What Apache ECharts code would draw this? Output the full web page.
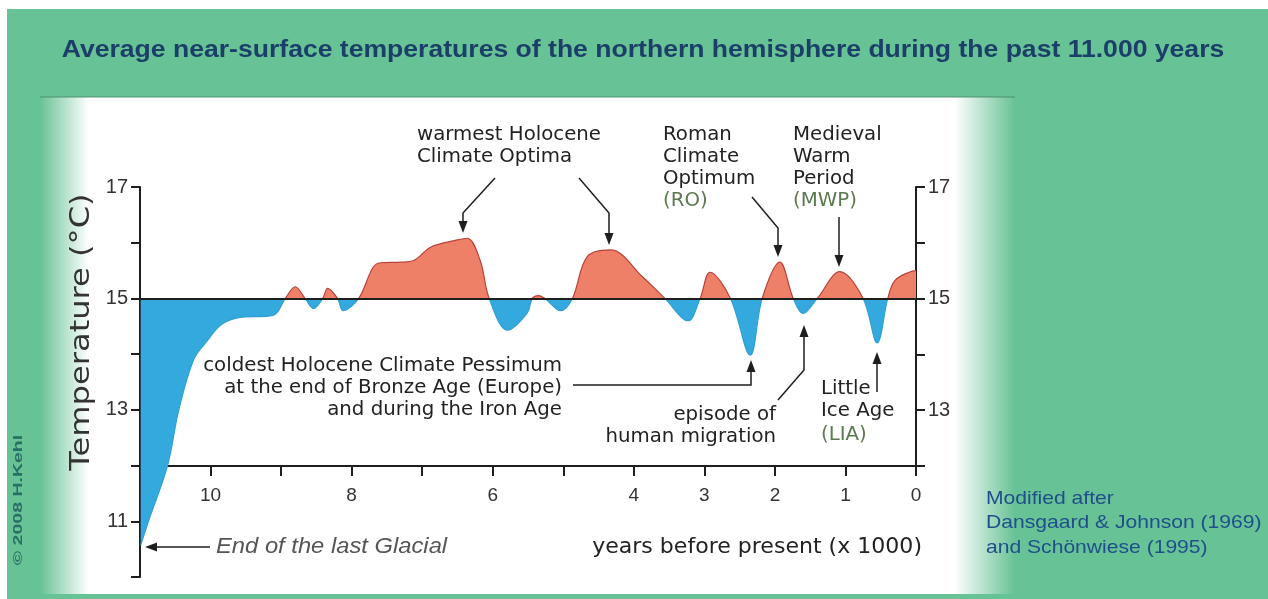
<!DOCTYPE html>
<html>
<head>
<meta charset="utf-8">
<script src="https://cdn.jsdelivr.net/npm/echarts@6/dist/echarts.min.js"></script>
<style>
  html, body { margin: 0; padding: 0; background: #fff; }
  #chart { width: 1268px; height: 599px; }
</style>
</head>
<body>
<div id="chart"></div>
<script>
// years before present (x 1000) and temperature (°C)
const years = [10.99, 10.88, 10.61, 10.45, 10.24, 10.04, 9.86, 9.62, 9.11,
  8.94, 8.80, 8.66, 8.54, 8.41, 8.34, 8.20, 8.12, 7.90,
  7.70, 7.59, 7.30, 7.12, 6.88, 6.50, 6.36, 6.18, 6.05,
  5.79, 5.51, 5.44, 5.35, 5.26, 5.04, 4.87, 4.66, 4.33,
  3.87, 3.56, 3.23, 3.06, 2.92, 2.63, 2.35, 2.18, 1.93,
  1.74, 1.60, 1.40, 1.08, 0.75, 0.55, 0.40, 0.30, 0.08, 0];
const temps = [10.57, 11.0, 12.0, 13.0, 13.9, 14.25, 14.52, 14.65, 14.7,
  15.0, 15.21, 15.0, 14.82, 15.0, 15.18, 15.0, 14.78, 15.0,
  15.55, 15.64, 15.65, 15.68, 15.92, 16.05, 16.08, 15.69, 15.0,
  14.43, 14.74, 15.0, 15.05, 15.0, 14.78, 15.0, 15.75, 15.87,
  15.38, 15.0, 14.6, 15.0, 15.47, 15.0, 13.98, 15.0, 15.65,
  15.0, 14.73, 15.0, 15.48, 15.0, 14.2, 15.0, 15.32, 15.48, 15.5];

const xTicks = [0, 1, 2, 3, 4, 5, 6, 7, 8, 9, 10];
const xLabels = [0, 1, 2, 3, 4, 6, 8, 10];
const yLabelsLeft = [11, 13, 15, 17];
const yLabelsRight = [13, 15, 17];
const baseTemp = 15;

const GREEN = '#67c295';
const INK = '#1e1e1e';
const TXT = '"DejaVu Sans", Verdana, sans-serif';
const ARIAL = '"Liberation Sans", Arial, sans-serif';

let points = years.map((y, i) => [y, temps[i]]);

function arrow(pts) {
  let n = pts.length;
  let [x1, y1] = pts[n - 2];
  let [x2, y2] = pts[n - 1];
  let a = Math.atan2(y2 - y1, x2 - x1);
  let L = 12, W = 4.5;
  let bx = x2 - L * Math.cos(a), by = y2 - L * Math.sin(a);
  let tri = [[x2, y2], [bx + W * Math.sin(a), by - W * Math.cos(a)], [bx - W * Math.sin(a), by + W * Math.cos(a)]];
  return [
    { type: 'polyline', z: 50, shape: { points: pts.slice(0, -1).concat([[bx, by]]) }, style: { stroke: INK, lineWidth: 1.5, fill: null } },
    { type: 'polygon', z: 50, shape: { points: tri }, style: { fill: INK } }
  ];
}

function txt(text, x, y, opt) {
  opt = opt || {};
  return {
    type: 'text', z: 50, x: x, y: y, rotation: opt.rotation || 0, scaleX: opt.scaleX || 1.04,
    style: Object.assign({ text: text, fill: '#222', font: '19px ' + TXT, align: 'left', verticalAlign: 'middle', lineHeight: 22 }, opt.style)
  };
}

let graphics = [
  { type: 'rect', z: -20, shape: { x: 7, y: 9, width: 1261, height: 590 }, style: { fill: GREEN } },
  {
    type: 'rect', z: -19, shape: { x: 40, y: 97, width: 975, height: 497 },
    style: {
      fill: new echarts.graphic.LinearGradient(0, 0, 1, 0, [
        { offset: 0, color: GREEN },
        { offset: 0.05, color: '#ffffff' },
        { offset: 0.938, color: '#ffffff' },
        { offset: 1, color: GREEN }
      ])
    }
  },
  { type: 'rect', z: -18, shape: { x: 40, y: 96, width: 975, height: 2 }, style: { fill: 'rgba(70,140,105,0.45)' } },
  txt('Average near-surface temperatures of the northern hemisphere during the past 11.000 years', 643, 50,
    { scaleX: 1.107, style: { font: 'bold 24px ' + ARIAL, fill: '#1b3f68', align: 'center' } }),
  txt('Temperature (°C)', 82, 332, { rotation: Math.PI / 2, scaleX: 1.19, style: { font: '27px ' + TXT, fill: '#333', align: 'center' } }),
  txt('© 2008 H.Kehl', 18, 500, { rotation: Math.PI / 2, scaleX: 1.5, style: { font: 'bold 13px ' + ARIAL, fill: '#2a6f66', align: 'center' } }),
  txt('warmest Holocene\nClimate Optima', 417, 146),
  txt('Roman\nClimate\nOptimum', 663, 157),
  txt('(RO)', 663, 201, { style: { fill: '#5b7a4f' } }),
  txt('Medieval\nWarm\nPeriod', 793, 157),
  txt('(MWP)', 793, 201, { style: { fill: '#5b7a4f' } }),
  txt('coldest Holocene Climate Pessimum\nat the end of Bronze Age (Europe)\nand during the Iron Age', 562, 388, { style: { align: 'right' } }),
  txt('episode of\nhuman migration', 776, 426, { style: { align: 'right' } }),
  txt('Little\nIce Age', 821, 400),
  txt('(LIA)', 821, 435, { style: { fill: '#5b7a4f' } }),
  txt('End of the last Glacial', 216, 547, { scaleX: 1.08, style: { font: 'italic 22px ' + ARIAL, fill: '#555' } }),
  txt('years before present (x 1000)', 922, 548, { scaleX: 1.05, style: { font: '21px ' + TXT, fill: '#222', align: 'right' } }),
  txt('Modified after\nDansgaard & Johnson (1969)\nand Schönwiese (1995)', 986, 523,
    { scaleX: 1.11, style: { font: '19px ' + ARIAL, fill: '#1f4e8c', lineHeight: 24.5 } })
];
[
  [[495, 178], [463, 213], [463, 233]],
  [[579, 178], [609, 213], [609, 245]],
  [[752, 197], [778, 228], [778, 257]],
  [[839, 217], [839, 267]],
  [[573, 385], [751, 385], [751, 360]],
  [[778, 400], [804, 370], [804, 325]],
  [[877, 392], [877, 352]],
  [[210, 547], [145, 547]]
].forEach(p => { graphics = graphics.concat(arrow(p)); });

let axisLine = { show: true, onZero: false, lineStyle: { color: INK, width: 2 } };
let axisTick = { show: true, length: 9, lineStyle: { color: INK, width: 2 } };

let options = {
  backgroundColor: '#ffffff',
  animation: false,
  grid: [
    { left: 140, right: 352, top: 187, bottom: 22 },
    { left: 140, right: 352, top: 187, bottom: 133 }
  ],
  xAxis: [
    {
      type: 'value', gridIndex: 0, min: 0, max: 11, inverse: true, offset: -111,
      axisLine: axisLine,
      axisTick: Object.assign({}, axisTick, { length: 10, customValues: xTicks }),
      splitLine: { show: false },
      axisLabel: { customValues: xLabels, margin: 20, fontSize: 19, fontFamily: ARIAL, color: '#333' }
    },
    { type: 'value', gridIndex: 1, min: 0, max: 11, inverse: true, show: false }
  ],
  yAxis: [
    {
      type: 'value', gridIndex: 0, min: 10, max: 17, interval: 1,
      axisLine: axisLine, axisTick: axisTick, splitLine: { show: false },
      axisLabel: { customValues: yLabelsLeft, margin: 12, fontSize: 20, fontFamily: ARIAL, color: '#333' }
    },
    {
      type: 'value', gridIndex: 1, position: 'right', min: 12, max: 17, interval: 1,
      axisLine: axisLine, axisTick: axisTick, splitLine: { show: false },
      axisLabel: { customValues: yLabelsRight, margin: 12, fontSize: 20, fontFamily: ARIAL, color: '#333' }
    }
  ],
  visualMap: [
    {
      show: false, type: 'piecewise', seriesIndex: 0, dimension: 1,
      pieces: [{ min: 0, max: baseTemp, color: '#34a9de' }, { min: baseTemp, max: 40, color: '#ef8068' }]
    },
    {
      show: false, type: 'piecewise', seriesIndex: 1, dimension: 1,
      pieces: [{ min: 0, max: baseTemp, color: '#2f9fd3' }, { min: baseTemp, max: 40, color: '#b8403a' }]
    }
  ],
  series: [
    {
      name: 'area', type: 'line', xAxisIndex: 0, yAxisIndex: 0,
      data: points, smooth: 0.35, symbol: 'none',
      lineStyle: { width: 0 },
      areaStyle: { origin: baseTemp, opacity: 1 },
      z: 2
    },
    {
      name: 'outline', type: 'line', xAxisIndex: 0, yAxisIndex: 0,
      data: points, smooth: 0.35, symbol: 'none',
      lineStyle: { width: 1.2 },
      z: 3,
      markLine: {
        silent: true, symbol: 'none', label: { show: false },
        lineStyle: { color: INK, width: 2, type: 'solid' },
        data: [{ yAxis: baseTemp }]
      }
    }
  ],
  graphic: graphics
};

let myChart = echarts.init(document.getElementById('chart'));
myChart.setOption(options);
</script>
</body>
</html>
